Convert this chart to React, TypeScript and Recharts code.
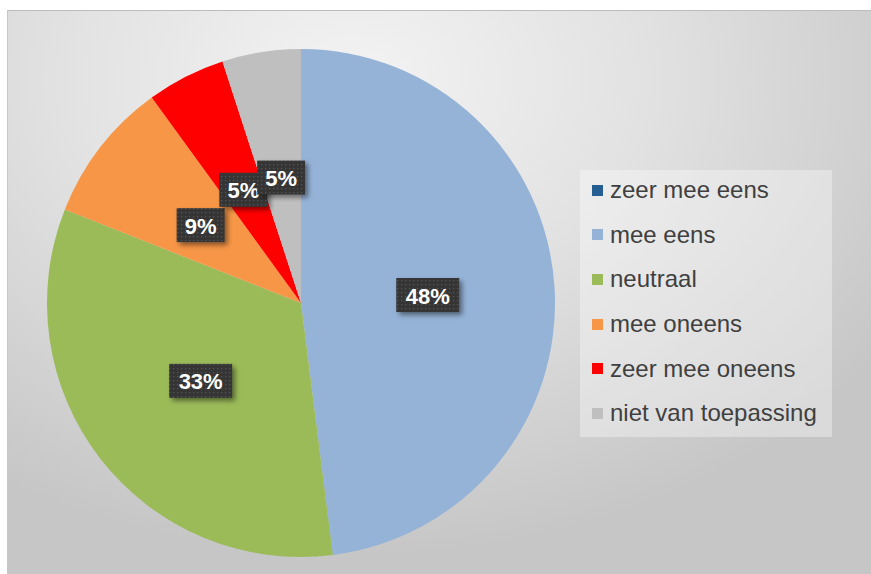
import { PieChart, Pie, Cell, Legend } from "recharts"

const categories = ["zeer mee eens", "mee eens", "neutraal", "mee oneens", "zeer mee oneens", "niet van toepassing"]
const shares = [0, 48, 33, 9, 5, 5]
const colors = ["#255e91", "#95b3d7", "#9bbb59", "#f79646", "#ff0000", "#bfbfbf"]

const data = categories.map((name, i) => ({ name, value: shares[i] }))

const RAD = Math.PI / 180
const FONT = "'Liberation Sans', Arial, sans-serif"

function renderLabel(props: any) {
  const { cx, cy, midAngle, outerRadius, value } = props
  if (!value) return null
  const r = outerRadius * 0.5
  const x = cx + r * Math.cos(-midAngle * RAD)
  const y = cy + r * Math.sin(-midAngle * RAD)
  const text = `${value}%`
  const w = text.length === 2 ? 48 : 63
  const h = 34
  return (
    <g>
      <rect x={x - w / 2} y={y - h / 2} width={w} height={h} fill="url(#lblDots)" filter="url(#lblShadow)" />
      <text x={x} y={y + 1} fill="#ffffff" fontSize={22} fontWeight="bold" fontFamily={FONT}
        textAnchor="middle" dominantBaseline="central">
        {text}
      </text>
    </g>
  )
}

function renderLegend() {
  return (
    <div style={{
      width: 252, height: 267, background: "rgba(255,255,255,0.35)",
      boxSizing: "border-box", paddingTop: 0,
    }}>
      <div style={{ position: "relative", top: -2 }}>
        {categories.map((c, i) => (
          <div key={c} style={{ display: "flex", alignItems: "center", height: 44.6, paddingLeft: 12 }}>
            <span style={{ width: 11, height: 11, background: colors[i], display: "inline-block", marginRight: 7 }} />
            <span style={{ fontFamily: FONT, fontSize: 24, color: "#404040", whiteSpace: "nowrap" }}>{c}</span>
          </div>
        ))}
      </div>
    </div>
  )
}

export default function App() {
  return (
    <div style={{
      position: "absolute", left: 7, top: 10, width: 864, height: 564, boxSizing: "border-box",
      borderTop: "1px solid #bcbcbc", borderLeft: "1px solid #c8c8c8",
      background: "radial-gradient(ellipse 75% 85% at 40% 12%, #f3f3f3 0%, #e2e2e2 45%, #c6c6c6 100%)",
    }}>
      <svg width={0} height={0} style={{ position: "absolute" }}>
        <defs>
          <pattern id="lblDots" width={4} height={4} patternUnits="userSpaceOnUse">
            <rect width={4} height={4} fill="#363636" />
            <rect x={1} y={1} width={1.2} height={1.2} fill="#555555" />
          </pattern>
          <filter id="lblShadow" x="-30%" y="-30%" width="170%" height="170%">
            <feDropShadow dx={3} dy={3} stdDeviation={2.5} floodColor="#000" floodOpacity={0.45} />
          </filter>
        </defs>
      </svg>
      <PieChart width={863} height={563} margin={{ top: 0, right: 0, bottom: 0, left: 0 }}>
        <Pie
          data={data}
          dataKey="value"
          nameKey="name"
          cx={293}
          cy={292}
          outerRadius={254}
          startAngle={90}
          endAngle={-270}
          stroke="none"
          labelLine={false}
          label={renderLabel}
          isAnimationActive={false}
        >
          {data.map((d, i) => (
            <Cell key={d.name} fill={colors[i]} />
          ))}
        </Pie>
        <Legend
          content={renderLegend}
          wrapperStyle={{ left: 572, top: 159, width: 252, height: 267 }}
        />
      </PieChart>
    </div>
  )
}
